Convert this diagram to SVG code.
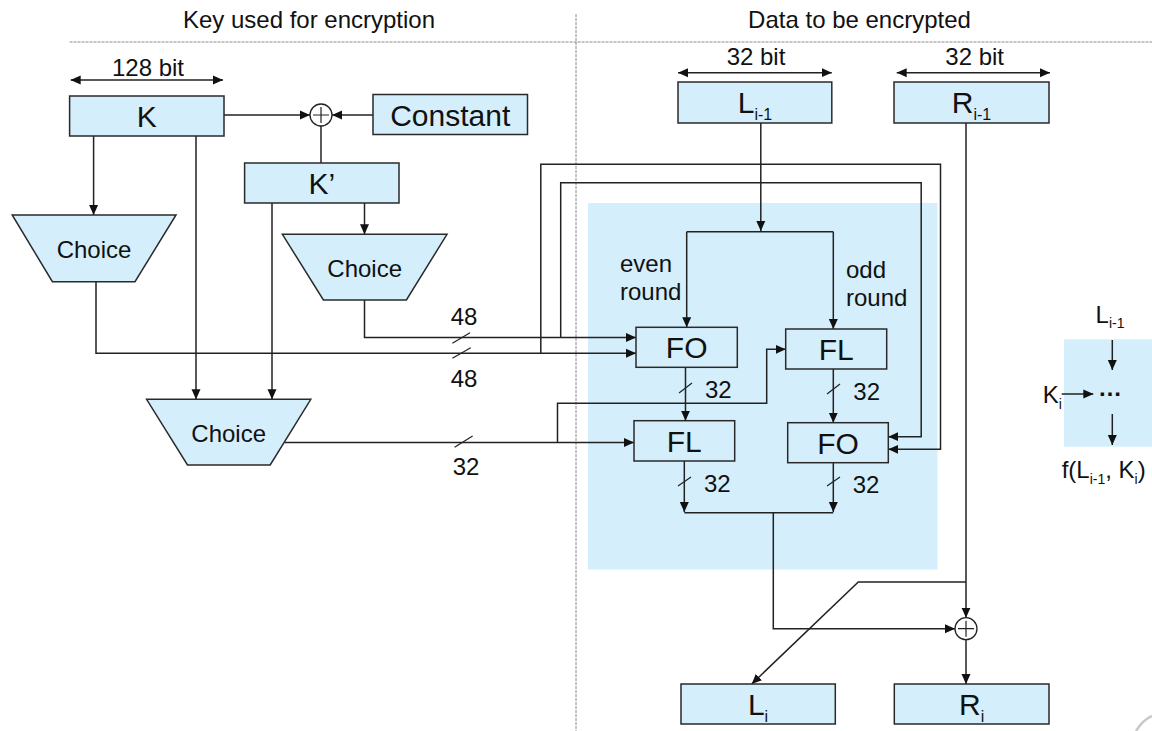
<svg xmlns="http://www.w3.org/2000/svg" width="1152" height="731" viewBox="0 0 1152 731">
<defs>
<style>
.t{font-family:"Liberation Sans",Arial,sans-serif;fill:#111;font-size:24px}
.big{font-size:30px}
.sub{font-size:16px}
.ssub{font-size:14px}
.box{fill:#D4EEFB;stroke:#2a2a2a;stroke-width:1.5}
.ln{fill:none;stroke:#222;stroke-width:1.5}
.sl{fill:none;stroke:#222;stroke-width:1.2}
.sep{fill:none;stroke:#8a8a8a;stroke-width:1;stroke-dasharray:3 1}
</style>
<marker id="ah" markerWidth="10" markerHeight="10" refX="10" refY="5" markerUnits="userSpaceOnUse" orient="auto">
<path d="M0,0.5L10,5L0,9.5z" fill="#111" stroke="none"/>
</marker>
<marker id="ahs" markerWidth="10" markerHeight="10" refX="0" refY="5" markerUnits="userSpaceOnUse" orient="auto">
<path d="M10,0.5L0,5L10,9.5z" fill="#111" stroke="none"/>
</marker>
</defs>
<rect width="1152" height="731" fill="#fff"/>

<g id="frame">
<path class="sep" d="M69.6,42H1152"/>
<path class="sep" d="M576,14V731"/>
<text class="t" x="309" y="28" text-anchor="middle">Key used for encryption</text>
<text class="t" x="859.5" y="28" text-anchor="middle">Data to be encrypted</text>
</g>

<rect id="round-area" x="588" y="203" width="349.5" height="366.5" fill="#D4EEFB"/>

<g id="legend">
<rect x="1064" y="339.3" width="88" height="107.4" fill="#D4EEFB"/>
<text class="t" x="1110" y="323.3" text-anchor="middle">L<tspan class="ssub" dy="5">i-1</tspan></text>
<text class="t" x="1042.7" y="402.7">K<tspan class="ssub" dy="6">i</tspan></text>
<text class="t" x="1098" y="396" font-weight="bold">…</text>
<text class="t" x="1061.7" y="478.3">f(L<tspan class="ssub" dy="6">i-1</tspan><tspan dy="-6">, K</tspan><tspan class="ssub" dy="6">i</tspan><tspan dy="-6">)</tspan></text>
</g>

<g id="connectors">
<path class="ln" d="M70.7,80H223" marker-start="url(#ahs)" marker-end="url(#ah)"/>
<path class="ln" d="M678,72.7H831.8" marker-start="url(#ahs)" marker-end="url(#ah)"/>
<path class="ln" d="M896.7,72.7H1050" marker-start="url(#ahs)" marker-end="url(#ah)"/>
<path class="ln" d="M224,115H310" marker-end="url(#ah)"/>
<path class="ln" d="M373,115H332" marker-end="url(#ah)"/>
<path class="ln" d="M321,126V163"/>
<path class="ln" d="M93.6,136V215" marker-end="url(#ah)"/>
<path class="ln" d="M196,136V399.3" marker-end="url(#ah)"/>
<path class="ln" d="M272,203V399.3" marker-end="url(#ah)"/>
<path class="ln" d="M364.5,203V234.3" marker-end="url(#ah)"/>
<path class="ln" d="M96,281.7V353.3H636" marker-end="url(#ah)"/>
<path class="ln" d="M364.5,300V337.5H636" marker-end="url(#ah)"/>
<path class="ln" d="M540.8,353.3V164.3H940.5V449.3H888.3" marker-end="url(#ah)"/>
<path class="ln" d="M560.7,337.5V182.7H921.2V436.7H888.3" marker-end="url(#ah)"/>
<path class="ln" d="M284.4,442.5H634" marker-end="url(#ah)"/>
<path class="ln" d="M557.5,442.5V403.3H766.7V349.3H785.7" marker-end="url(#ah)"/>
<path class="ln" d="M760.8,123V231" marker-end="url(#ah)"/>
<path class="ln" d="M686.7,231.7H833.3"/>
<path class="ln" d="M686.7,231.7V327.3" marker-end="url(#ah)"/>
<path class="ln" d="M833.3,231.7V329" marker-end="url(#ah)"/>
<path class="ln" d="M685.5,367.3V420.7" marker-end="url(#ah)"/>
<path class="ln" d="M833.3,369V422.7" marker-end="url(#ah)"/>
<path class="ln" d="M684.3,461V512" marker-end="url(#ah)"/>
<path class="ln" d="M833.3,462.7V512" marker-end="url(#ah)"/>
<path class="ln" d="M684.3,512.7H833.3"/>
<path class="ln" d="M773.3,512.7V628.7H955" marker-end="url(#ah)"/>
<path class="ln" d="M966,123V617.7" marker-end="url(#ah)"/>
<path class="ln" d="M966,639.7V684" marker-end="url(#ah)"/>
<path class="ln" d="M966,582H858.3L751.7,684" marker-end="url(#ah)"/>
<path class="sl" d="M452.4,343.3L470,332.7"/>
<path class="sl" d="M452.4,358.3L470.7,347.7"/>
<path class="sl" d="M454.6,447.3L472.6,436"/>
<path class="sl" d="M679,393L692,383"/>
<path class="sl" d="M827,394L840,384"/>
<path class="sl" d="M678,486L691,477"/>
<path class="sl" d="M827,486L840,477"/>
<path class="ln" d="M1112.3,340V370" marker-end="url(#ah)"/>
<path class="ln" d="M1061.7,394H1093.3" marker-end="url(#ah)"/>
<path class="ln" d="M1112.3,414V445" marker-end="url(#ah)"/>
</g>

<g id="connector-labels">
<text class="t" x="148" y="76" text-anchor="middle">128 bit</text>
<text class="t" x="756" y="65" text-anchor="middle">32 bit</text>
<text class="t" x="974.7" y="65" text-anchor="middle">32 bit</text>
<text class="t" x="464" y="325" text-anchor="middle">48</text>
<text class="t" x="464" y="386.7" text-anchor="middle">48</text>
<text class="t" x="466" y="475" text-anchor="middle">32</text>
<text class="t" x="620" y="271.7">even</text>
<text class="t" x="620" y="300">round</text>
<text class="t" x="846" y="277.7">odd</text>
<text class="t" x="846" y="306">round</text>
<text class="t" x="705" y="398.3">32</text>
<text class="t" x="853.3" y="400">32</text>
<text class="t" x="704" y="491.7">32</text>
<text class="t" x="852.7" y="492.7">32</text>
</g>

<g id="node-K"><rect class="box" x="69.6" y="96" width="154.4" height="40"/><text class="t big" x="146.8" y="127" text-anchor="middle">K</text></g>
<g id="node-Constant"><rect class="box" x="373" y="94.5" width="154.5" height="40"/><text class="t big" x="450.2" y="125.5" text-anchor="middle">Constant</text></g>
<g id="node-xor1"><circle cx="321" cy="115" r="11" fill="#fff" stroke="#222" stroke-width="1.3"/><path class="sl" d="M313,115H329M321,107V123"/></g>
<g id="node-Kp"><rect class="box" x="244.6" y="163" width="154.4" height="40"/><text class="t big" x="321.8" y="194" text-anchor="middle">K’</text></g>
<g id="node-choice1"><polygon class="box" points="12.2,215 176,215 135,281.7 52.4,281.7"/><text class="t" x="94" y="258" text-anchor="middle">Choice</text></g>
<g id="node-choice2"><polygon class="box" points="282.4,234.3 447,234.3 406.4,300 323.4,300"/><text class="t" x="364.7" y="276.7" text-anchor="middle">Choice</text></g>
<g id="node-choice3"><polygon class="box" points="146.6,399.3 310.8,399.3 270.2,465 187.5,465"/><text class="t" x="228.7" y="441.7" text-anchor="middle">Choice</text></g>

<g id="node-Li-1"><rect class="box" x="678" y="82" width="153.8" height="41"/><text class="t big" x="755" y="112.5" text-anchor="middle">L<tspan class="sub" dy="7">i-1</tspan></text></g>
<g id="node-Ri-1"><rect class="box" x="894" y="82" width="155" height="41"/><text class="t big" x="971.5" y="112.5" text-anchor="middle">R<tspan class="sub" dy="7">i-1</tspan></text></g>
<g id="node-FO1"><rect class="box" x="636" y="327.3" width="101.3" height="40"/><text class="t big" x="686.7" y="358.3" text-anchor="middle">FO</text></g>
<g id="node-FL1"><rect class="box" x="785.7" y="329" width="101" height="40"/><text class="t big" x="836.2" y="360" text-anchor="middle">FL</text></g>
<g id="node-FL2"><rect class="box" x="634" y="420.7" width="100.7" height="40.3"/><text class="t big" x="684.3" y="451.8" text-anchor="middle">FL</text></g>
<g id="node-FO2"><rect class="box" x="787.7" y="422.7" width="100.6" height="40"/><text class="t big" x="838" y="453.7" text-anchor="middle">FO</text></g>
<g id="node-xor2"><circle cx="966" cy="628.7" r="11" fill="#fff" stroke="#222" stroke-width="1.3"/><path class="sl" d="M958,628.7H974M966,620.7V636.7"/></g>
<g id="node-Li"><rect class="box" x="681" y="684" width="154.3" height="40"/><text class="t big" x="758" y="715" text-anchor="middle">L<tspan class="sub" dy="7">i</tspan></text></g>
<g id="node-Ri"><rect class="box" x="894.3" y="684" width="154.7" height="40"/><text class="t big" x="971.7" y="715" text-anchor="middle">R<tspan class="sub" dy="7">i</tspan></text></g>

<path d="M1136,731Q1143,720 1152,716" fill="none" stroke="#c8c8c8" stroke-width="2.5"/>
</svg>
